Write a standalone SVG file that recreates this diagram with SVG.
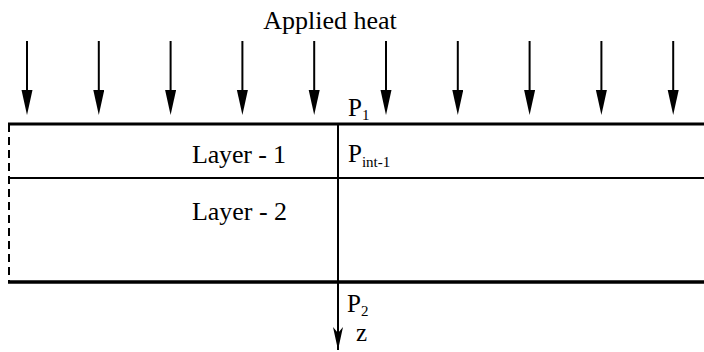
<svg xmlns="http://www.w3.org/2000/svg" width="704" height="352" viewBox="0 0 704 352">
<defs>
<style>
text{fill:#000;font-family:"Liberation Serif","Times New Roman",serif}
.lbl{font-size:26px}
.p{font-size:25px}
.sub{font-size:15px}
.heat{stroke:#000;stroke-width:2;fill:none}
</style>
<marker id="hd" markerUnits="userSpaceOnUse" markerWidth="26" markerHeight="12" refX="15" refY="5.5" orient="auto" viewBox="0 0 26 12">
<path d="M0,0 L25,5.5 L0,11 Z" fill="#000"/>
</marker>
<marker id="za" markerUnits="userSpaceOnUse" markerWidth="24" markerHeight="11" refX="23" refY="5" orient="auto" viewBox="0 0 24 11">
<path d="M0,0 L23,5 L0,10 L6,5 Z" fill="#000"/>
</marker>
</defs>
<g id="heat-label"><text class="lbl" x="330" y="29" text-anchor="middle">Applied heat</text></g>
<g id="connectors">
<line class="heat" x1="27" y1="41" x2="27" y2="105" marker-end="url(#hd)"/>
<line class="heat" x1="98.8" y1="41" x2="98.8" y2="105" marker-end="url(#hd)"/>
<line class="heat" x1="170.6" y1="41" x2="170.6" y2="105" marker-end="url(#hd)"/>
<line class="heat" x1="242.4" y1="41" x2="242.4" y2="105" marker-end="url(#hd)"/>
<line class="heat" x1="314.2" y1="41" x2="314.2" y2="105" marker-end="url(#hd)"/>
<line class="heat" x1="386" y1="41" x2="386" y2="105" marker-end="url(#hd)"/>
<line class="heat" x1="457.8" y1="41" x2="457.8" y2="105" marker-end="url(#hd)"/>
<line class="heat" x1="529.6" y1="41" x2="529.6" y2="105" marker-end="url(#hd)"/>
<line class="heat" x1="601.4" y1="41" x2="601.4" y2="105" marker-end="url(#hd)"/>
<line class="heat" x1="673.2" y1="41" x2="673.2" y2="105" marker-end="url(#hd)"/>
<line x1="338" y1="124" x2="338" y2="350" stroke="#000" stroke-width="2" marker-end="url(#za)"/>
</g>
<g id="layers">
<line x1="8" y1="124" x2="704" y2="124" stroke="#000" stroke-width="3"/>
<line x1="8" y1="178" x2="704" y2="178" stroke="#000" stroke-width="2"/>
<line x1="8" y1="282" x2="704" y2="282" stroke="#000" stroke-width="3.5"/>
<line x1="9" y1="124" x2="9" y2="282" stroke="#000" stroke-width="2" stroke-dasharray="8,5"/>
</g>
<g id="layer-1"><text class="lbl" x="192" y="163" textLength="94">Layer - 1</text></g>
<g id="layer-2"><text class="lbl" x="192" y="220" textLength="95">Layer - 2</text></g>
<g id="p1"><text class="p" x="348" y="116">P<tspan class="sub" dy="4">1</tspan></text></g>
<g id="pint"><text class="p" x="348" y="162">P<tspan class="sub" dy="5">int-1</tspan></text></g>
<g id="p2"><text class="p" x="347" y="312">P<tspan class="sub" dy="4">2</tspan></text></g>
<g id="z"><text class="p" x="356" y="341">z</text></g>
</svg>
